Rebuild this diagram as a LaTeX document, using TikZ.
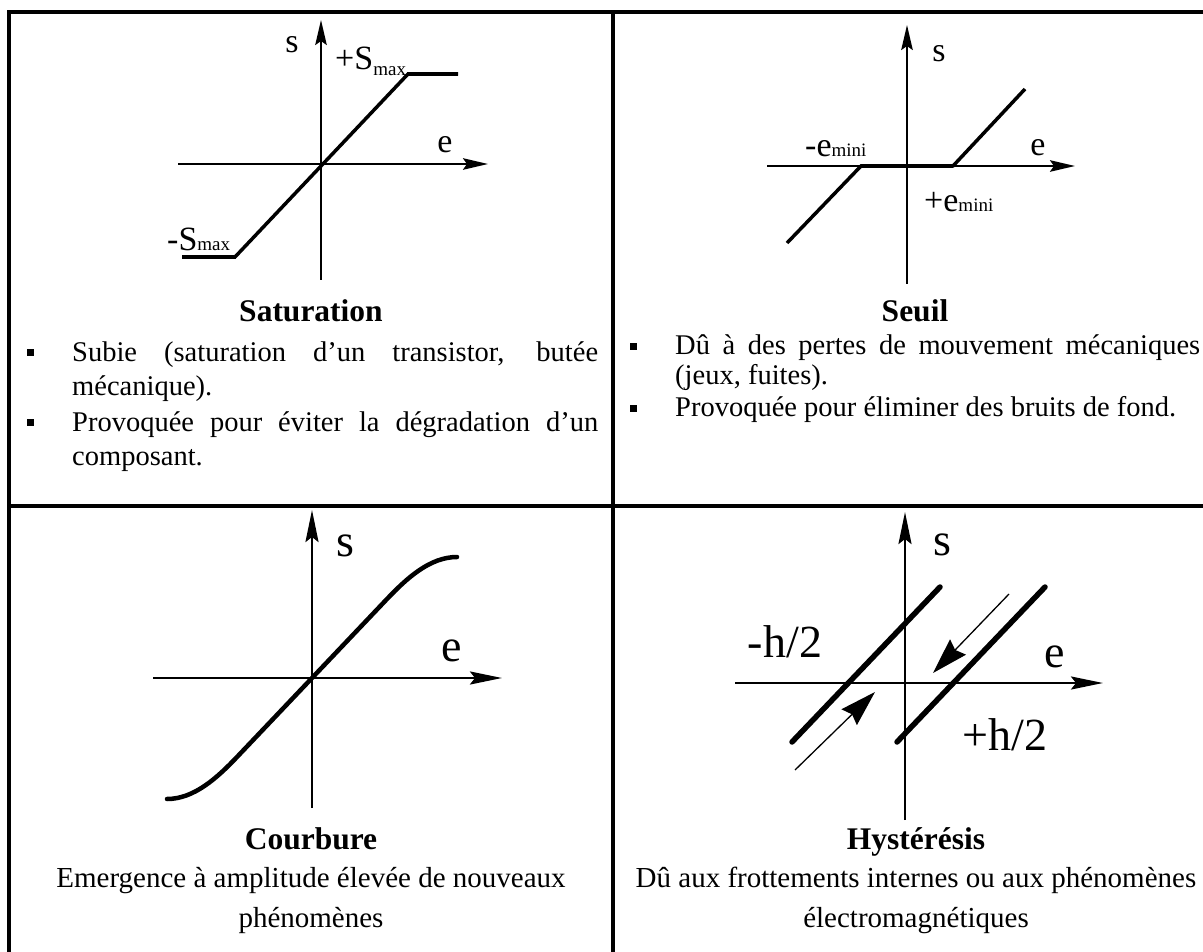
\documentclass[tikz,border=0pt]{standalone}
\usepackage{fontspec}
\setmainfont{Liberation Serif}
\usetikzlibrary{arrows.meta}

% subscript of the axis labels, optionally lowered
\newcommand{\lblsub}[2][0pt]{\raisebox{-#1}{\fontsize{19}{19}\selectfont #2}}

\tikzset{
  tablerule/.style={line width=4pt},
  axistop/.style={line width=2pt, -{Stealth[length=25pt, width=11.5pt, inset=4pt]}},
  axisbot/.style={line width=2.5pt, -{Stealth[length=32pt, width=13pt, inset=5pt]}},
  charline/.style={line width=3.5pt},
  flatline/.style={line width=4.5pt},
  curveline/.style={line width=4.5pt, line cap=round},
  hystline/.style={line width=5.5pt, line cap=round},
  thinarrow/.style={line width=1.3pt, -{Stealth[length=36pt, width=22pt, inset=4pt]}},
  toplbl/.style={font=\fontsize{34}{34}\selectfont, inner sep=0pt},
  botlbl/.style={font=\fontsize{46}{46}\selectfont, inner sep=0pt},
  celltitle/.style={font=\bfseries\fontsize{31.5}{36}\selectfont, inner sep=0pt, anchor=base},
  bodyline/.style={font=\fontsize{28.5}{35}\selectfont, inner sep=0pt, anchor=base west},
  centerline/.style={font=\fontsize{29}{40}\selectfont, inner sep=0pt, anchor=base},
  bulletmark/.style={fill, minimum size=7pt, inner sep=0pt}
}

\begin{document}
\begin{tikzpicture}[x=1pt, y=-1pt]
  \useasboundingbox (0,0) rectangle (1203,952);
  \begin{scope}
    \clip (0,0) rectangle (1203,952);
    % table frame, cut at the right and at the bottom
    \draw[tablerule] (9,12) rectangle (1217,962);
    \draw[tablerule] (613,12) -- (613,962);
    \draw[tablerule] (9,506) -- (1217,506);
  \end{scope}

  % ---- Saturation ----
  \coordinate (sat-xl) at (178,164);
  \coordinate (sat-xr) at (488,164);
  \coordinate (sat-yb) at (321,280);
  \coordinate (sat-yt) at (321,20);
  \draw[axistop] (sat-xl) -- (sat-xr);
  \draw[axistop] (sat-yb) -- (sat-yt);
  \draw[charline] (182,257) -- (235,257) -- (408,74) -- (458,74);
  \draw[flatline] (182,257) -- (236,257);
  \draw[flatline] (407,74) -- (458,74);
  \node[toplbl] (sat-s) at (292,45) {s};
  \node[toplbl] (sat-e) at (445,145) {e};
  \node[toplbl, anchor=base west] (sat-smaxp) at (335,70) {+S\lblsub[6pt]{max}};
  \node[toplbl, anchor=base west] (sat-smaxm) at (167,251) {-S\lblsub{max}};
  \node[celltitle] (sat-title) at (311,322) {Saturation};
  \node[bulletmark] (sat-b1) at (30,352) {};
  \node[bodyline] (sat-l1) at (72,361) {\makebox[526pt][s]{Subie (saturation d’un transistor, butée}};
  \node[bodyline] (sat-l2) at (72,395) {mécanique).};
  \node[bulletmark] (sat-b2) at (30,422) {};
  \node[bodyline] (sat-l3) at (72,431) {\makebox[526pt][s]{Provoquée pour éviter la dégradation d’un}};
  \node[bodyline] (sat-l4) at (72,465) {composant.};

  % ---- Seuil ----
  \coordinate (seu-xl) at (767,166);
  \coordinate (seu-xr) at (1075,166);
  \coordinate (seu-yb) at (907,284);
  \coordinate (seu-yt) at (907,25);
  \draw[axistop] (seu-xl) -- (seu-xr);
  \draw[axistop] (seu-yb) -- (seu-yt);
  \draw[charline] (787,243) -- (861,166) -- (953,166) -- (1025,89);
  \draw[flatline] (861,166) -- (953,166);
  \node[toplbl] (seu-s) at (939,54) {s};
  \node[toplbl] (seu-e) at (1038,148) {e};
  \node[toplbl, anchor=base west] (seu-eminm) at (805,157) {-e\lblsub{mini}};
  \node[toplbl, anchor=base west] (seu-eminp) at (924,212) {+e\lblsub{mini}};
  \node[celltitle] (seu-title) at (915,322) {Seuil};
  \node[bulletmark] (seu-b1) at (633,346) {};
  \node[bodyline] (seu-l1) at (675,354) {\makebox[525pt][s]{Dû à des pertes de mouvement mécaniques}};
  \node[bodyline] (seu-l2) at (675,384) {(jeux, fuites).};
  \node[bulletmark] (seu-b2) at (633,408) {};
  \node[bodyline] (seu-l3) at (675,416) {Provoquée pour éliminer des bruits de fond.};

  % ---- Courbure ----
  \coordinate (cou-xl) at (153,678);
  \coordinate (cou-xr) at (502,678);
  \coordinate (cou-yb) at (312,808);
  \coordinate (cou-yt) at (312,510);
  \draw[axisbot] (cou-xl) -- (cou-xr);
  \draw[axisbot] (cou-yb) -- (cou-yt);
  \draw[curveline] (167,799) .. controls (194,799) and (217,778) .. (237,757)
        -- (387,599) .. controls (407,578) and (430,557) .. (457,557);
  \node[botlbl] (cou-s) at (345,546) {s};
  \node[botlbl] (cou-e) at (452,651) {e};
  \node[celltitle] (cou-title) at (311,849) {Courbure};
  \node[centerline] (cou-l1) at (311,887) {Emergence à amplitude élevée de nouveaux};
  \node[centerline] (cou-l2) at (311,927) {phénomènes};

  % ---- Hysteresis ----
  \coordinate (hys-xl) at (735,683);
  \coordinate (hys-xr) at (1103,683);
  \coordinate (hys-yb) at (905,820);
  \coordinate (hys-yt) at (905,512);
  \draw[axisbot] (hys-xl) -- (hys-xr);
  \draw[axisbot] (hys-yb) -- (hys-yt);
  \draw[hystline] (792,742) -- (940,587);
  \draw[hystline] (897,742) -- (1045,587);
  \coordinate (hys-up0) at (795,770);
  \coordinate (hys-up1) at (875,692);
  \coordinate (hys-dn0) at (1009,594);
  \coordinate (hys-dn1) at (933,673);
  \draw[thinarrow] (hys-up0) -- (hys-up1);
  \draw[thinarrow] (hys-dn0) -- (hys-dn1);
  \node[botlbl] (hys-s) at (942,545) {s};
  \node[botlbl] (hys-e) at (1055,657) {e};
  \node[botlbl] (hys-hm) at (785,642) {-h/2};
  \node[botlbl] (hys-hp) at (1005,735) {+h/2};
  \node[celltitle] (hys-title) at (916,849) {Hystérésis};
  \node[centerline] (hys-l1) at (916,887) {Dû aux frottements internes ou aux phénomènes};
  \node[centerline] (hys-l2) at (916,927) {électromagnétiques};
\end{tikzpicture}
\end{document}
